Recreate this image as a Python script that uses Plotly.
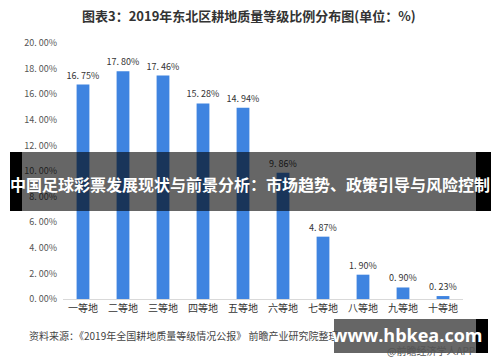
import plotly.graph_objects as go

categories = ["一等地", "二等地", "三等地", "四等地", "五等地", "六等地", "七等地", "八等地", "九等地", "十等地"]
values = [16.75, 17.80, 17.46, 15.28, 14.94, 9.86, 4.87, 1.90, 0.90, 0.23]
ytick_vals = [0, 2, 4, 6, 8, 10, 12, 14, 16, 18, 20]
ytick_text = ["0. 00%", "2. 00%", "4. 00%", "6. 00%", "8. 00%", "10. 00%", "12. 00%", "14. 00%", "16. 00%", "18. 00%", "20. 00%"]
bar_labels = [f"{v:.2f}".replace(".", ". ") + "%" for v in values]

title_text = "图表3：2019年东北区耕地质量等级比例分布图(单位：%)"
banner_text = "中国足球彩票发展现状与前景分析：市场趋势、政策引导与风险控制"
source_text = "资料来源：《2019年全国耕地质量等级情况公报》 前瞻产业研究院整理"
site_text = "www.hbkea.com"
app_text = "@前瞻经济学人APP"

W, H = 500, 362
L, R, T, B = 63, 37, 43, 63
PW, PH = W - L - R, H - T - B

def px(x):
    return (x - L) / PW

def py(y):
    return (H - B - y) / PH

CJK = "Noto Sans CJK SC, Noto Sans, sans-serif"

fig = go.Figure(go.Bar(
    x=categories, y=values, width=0.32,
    marker=dict(color="#3f84e0", line=dict(width=0)),
    text=bar_labels, textposition="outside", constraintext="none",
    textfont=dict(size=9, color="#333333", family=CJK),
    cliponaxis=False,
))

fig.update_layout(
    width=W, height=H,
    margin=dict(l=L, r=R, t=T, b=B),
    paper_bgcolor="white", plot_bgcolor="white",
    showlegend=False,
    xaxis=dict(showgrid=False, showline=True, linecolor="#d9d9d9", linewidth=1,
               tickfont=dict(size=10, color="#333333", family=CJK), ticks="",
               range=[-0.5, 9.5]),
    yaxis=dict(range=[0, 20], tickvals=ytick_vals, ticktext=ytick_text, showgrid=False,
               zeroline=False, showline=False, ticks="",
               tickfont=dict(size=9, color="#555555", family=CJK), ticklabelstandoff=5),
)

shapes = [
    dict(type="rect", xref="paper", yref="paper", x0=px(22), x1=px(476), y0=py(211), y1=py(152),
         fillcolor="rgba(0,0,0,0.6)", line=dict(width=0), layer="above"),
    dict(type="rect", xref="paper", yref="paper", x0=px(10), x1=px(22), y0=py(211), y1=py(152),
         fillcolor="black", line=dict(width=0), layer="above"),
    dict(type="rect", xref="paper", yref="paper", x0=px(476), x1=px(491), y0=py(211), y1=py(152),
         fillcolor="black", line=dict(width=0), layer="above"),
    dict(type="rect", xref="paper", yref="paper", x0=px(334), x1=px(476), y0=py(353), y1=py(319),
         fillcolor="rgba(0,0,0,0.6)", line=dict(width=0), layer="above"),
    dict(type="rect", xref="paper", yref="paper", x0=px(476), x1=px(488), y0=py(353), y1=py(319),
         fillcolor="black", line=dict(width=0), layer="above"),
]
fig.update_layout(shapes=shapes)

annotations = [
    dict(text="<b>" + title_text + "</b>", x=px(249), y=py(15), xref="paper", yref="paper",
         showarrow=False, font=dict(size=13, color="#333333", family=CJK), xanchor="center", yanchor="middle"),
    dict(text=source_text, x=px(27), y=py(335), xref="paper", yref="paper",
         showarrow=False, font=dict(size=10, color="#444444", family=CJK), xanchor="left", yanchor="middle"),
    dict(text=app_text, x=px(477), y=py(350), xref="paper", yref="paper",
         showarrow=False, font=dict(size=10, color="#555555", family=CJK), xanchor="right", yanchor="middle"),
    dict(text="<b>" + banner_text + "</b>", x=px(250), y=py(184), xref="paper", yref="paper",
         showarrow=False, font=dict(size=16, color="white", family=CJK), xanchor="center", yanchor="middle"),
    dict(text="<b>" + site_text + "</b>", x=px(407), y=py(335), xref="paper", yref="paper",
         showarrow=False, font=dict(size=18, color="white", family="Open Sans, Liberation Sans, sans-serif"),
         xanchor="center", yanchor="middle"),
]
fig.update_layout(annotations=annotations)

fig.write_html("out.html", config={"displayModeBar": False},
               post_script="document.body.style.margin='0';")
